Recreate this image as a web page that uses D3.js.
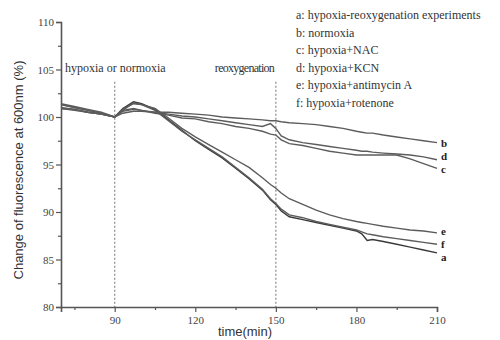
<!DOCTYPE html>
<html>
<head>
<meta charset="utf-8">
<script src="https://cdnjs.cloudflare.com/ajax/libs/d3/7.8.5/d3.min.js"></script>
<style>
  body { margin: 0; background: #fff; }
  .tick text { font-family: "Liberation Serif", "DejaVu Serif", serif; font-size: 11px; fill: #444; }
</style>
</head>
<body>
<div class="canvas"></div>
<script>
// time grid (min) shared by all curves
const times = [70,75,80,85,90,93,97,100,105,110,115,120,125,130,135,140,145,148,150,152,155,160,165,170,175,180,182,184,186,190,195,200,205,210];

const seriesA = [100.9,100.8,100.5,100.3,100.0,100.9,101.6,101.4,100.8,99.7,98.6,97.5,96.6,95.7,94.6,93.5,92.3,91.3,90.8,90.1,89.5,89.2,88.9,88.6,88.3,88.0,87.7,87.0,87.1,86.9,86.6,86.3,86.0,85.7];
const seriesB = [101.0,100.8,100.5,100.3,100.0,100.4,100.6,100.6,100.5,100.5,100.4,100.3,100.2,100.0,99.9,99.8,99.7,99.6,99.6,99.5,99.4,99.3,99.2,99.0,98.8,98.5,98.4,98.3,98.3,98.1,97.9,97.7,97.5,97.3];
const seriesC = [101.4,101.1,100.8,100.5,100.0,100.7,100.9,100.7,100.4,100.2,99.9,99.8,99.5,99.3,99.0,98.8,98.5,98.2,98.1,97.6,97.2,97.0,96.7,96.4,96.2,96.0,96.0,96.0,96.0,96.0,96.0,95.6,95.1,94.6];
const seriesD = [101.3,101.0,100.7,100.4,100.0,100.6,100.8,100.7,100.5,100.3,100.1,100.0,99.8,99.6,99.4,99.2,99.0,99.3,98.8,98.0,97.6,97.3,97.1,96.9,96.7,96.5,96.4,96.4,96.3,96.2,96.1,96.0,95.8,95.5];
const seriesE = [100.9,100.7,100.5,100.3,100.0,100.8,101.4,101.3,100.9,99.9,98.8,97.9,97.1,96.3,95.5,94.7,93.6,92.9,92.5,92.0,91.4,90.8,90.2,89.7,89.3,89.0,88.9,88.8,88.7,88.5,88.3,88.1,88.0,87.8];
const seriesF = [101.3,101.0,100.7,100.4,100.0,100.7,101.5,101.3,100.7,99.6,98.5,97.6,96.7,95.8,94.7,93.6,92.4,91.4,90.9,90.3,89.7,89.4,89.0,88.7,88.4,88.1,87.9,87.7,87.6,87.4,87.2,87.0,86.8,86.6];

const keys = ["a","b","c","d","e","f"];
const legendLabels = [
  "a: hypoxia-reoxygenation experiments",
  "b: normoxia",
  "c: hypoxia+NAC",
  "d: hypoxia+KCN",
  "e: hypoxia+antimycin A",
  "f: hypoxia+rotenone"
];
const markers = [
  {t: 90, label: "hypoxia or normoxia"},
  {t: 150, label: "reoxygenation"}
];
const xTicks = [90,120,150,180,210];
const yTicks = [80,85,90,95,100,105,110];

const allSeries = [seriesA, seriesB, seriesC, seriesD, seriesE, seriesF];

const dims = {width: 500, height: 340};
const margin = {left: 61, right: 63, top: 22, bottom: 33};

const svg = d3.select(".canvas").append("svg")
    .attr("width", dims.width)
    .attr("height", dims.height);

const x = d3.scaleLinear().domain([70, 210]).range([margin.left, dims.width - margin.right]);
const y = d3.scaleLinear().domain([80, 110]).range([dims.height - margin.bottom, margin.top]);

// dotted markers for hypoxia / reoxygenation
svg.selectAll(".marker")
  .data(markers)
  .enter().append("line")
    .attr("x1", d => x(d.t)).attr("x2", d => x(d.t))
    .attr("y1", y(103.7)).attr("y2", y(80))
    .attr("stroke", "#8a8a8a")
    .attr("stroke-width", 1.2)
    .attr("stroke-dasharray", "2,2");

svg.append("text")
    .attr("x", x(71.5)).attr("y", y(104.7))
    .attr("font-family", "Liberation Serif, serif").attr("font-size", 12).attr("fill", "#333")
    .text(markers[0].label);

svg.append("text")
    .attr("x", x(150) - 1).attr("y", y(104.7))
    .attr("text-anchor", "end")
    .attr("font-family", "Liberation Serif, serif").attr("font-size", 12).attr("fill", "#333")
    .attr("textLength", 60)
    .text(markers[1].label);

// axes
svg.append("g")
    .attr("transform", `translate(0,${y(80)})`)
    .call(d3.axisBottom(x).tickValues(xTicks).tickSize(5).tickPadding(4));
svg.append("g")
    .attr("transform", `translate(0,${y(80)})`)
    .call(d3.axisBottom(x).tickValues([75,105,135,165,195]).tickSize(3).tickFormat(""))
    .select(".domain").remove();

svg.append("g")
    .attr("transform", `translate(${x(70)},0)`)
    .call(d3.axisLeft(y).tickValues(yTicks).tickSize(5).tickPadding(2));
svg.append("g")
    .attr("transform", `translate(${x(70)},0)`)
    .call(d3.axisLeft(y).tickValues([82.5,87.5,92.5,97.5,102.5,107.5]).tickSize(3).tickFormat(""))
    .select(".domain").remove();

svg.selectAll(".domain").attr("stroke", "#555").attr("stroke-width", 1.6);
svg.selectAll(".tick line").attr("stroke", "#555").attr("stroke-width", 1.2);

// axis titles
svg.append("text")
    .attr("x", 245).attr("y", 336)
    .attr("text-anchor", "middle")
    .attr("font-family", "Liberation Sans, Arial, sans-serif").attr("font-size", 13).attr("fill", "#333")
    .text("time(min)");

svg.append("text")
    .attr("transform", `translate(23,170) rotate(-90)`)
    .attr("text-anchor", "middle")
    .attr("font-family", "Liberation Sans, Arial, sans-serif").attr("font-size", 13).attr("fill", "#333")
    .text("Change of fluorescence at 600nm (%)");

// curves
const line = d3.line()
    .x((d, i) => x(times[i]))
    .y(d => y(d));

svg.selectAll(".curve")
  .data(allSeries)
  .enter().append("path")
    .attr("d", line)
    .attr("fill", "none")
    .attr("stroke", (d, i) => i === 0 ? "#3a3a3a" : "#5c5c5c")
    .attr("stroke-width", 1.4);

// end labels
const nudge = {a: 4, b: 0, c: 1, d: -4, e: -2, f: 0};
svg.selectAll(".endLabel")
  .data(allSeries)
  .enter().append("text")
    .attr("x", x(210) + 4)
    .attr("y", (d, i) => y(d[d.length - 1]) + 4 + nudge[keys[i]])
    .attr("font-family", "Liberation Serif, serif")
    .attr("font-size", 11)
    .attr("font-weight", "bold")
    .attr("fill", "#222")
    .text((d, i) => keys[i]);

// legend
svg.selectAll(".legend")
  .data(legendLabels)
  .enter().append("text")
    .attr("x", 296)
    .attr("y", (d, i) => 19 + i * 17.6)
    .attr("font-family", "Liberation Serif, serif")
    .attr("font-size", 12)
    .attr("fill", "#333")
    .text(d => d);
</script>
</body>
</html>
